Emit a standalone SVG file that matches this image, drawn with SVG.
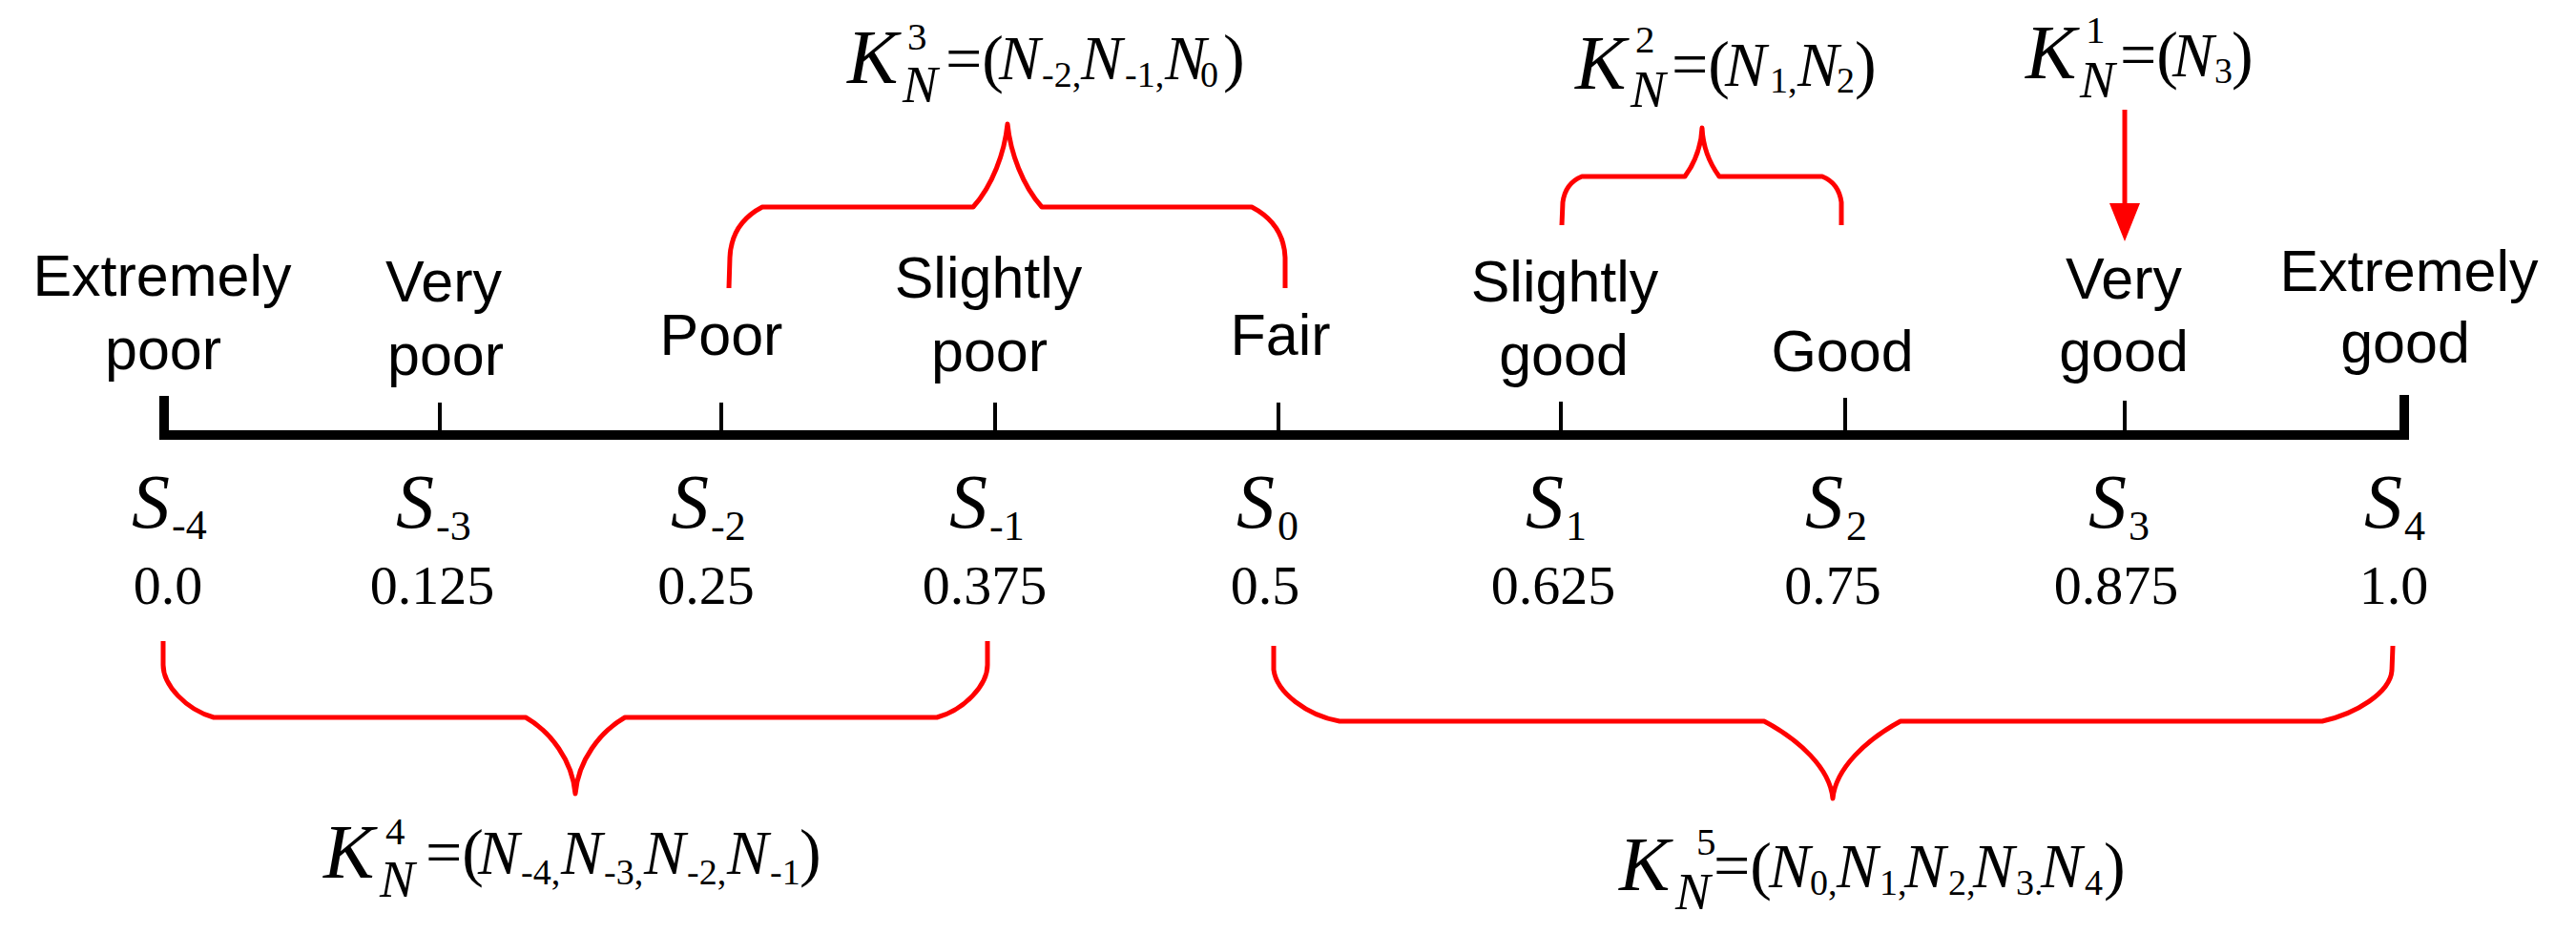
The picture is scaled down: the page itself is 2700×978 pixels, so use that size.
<svg xmlns="http://www.w3.org/2000/svg" width="2700" height="978" viewBox="0 0 2700 978">
<style>
.lbl{font-family:'Liberation Sans',Arial,sans-serif;font-size:61px;text-anchor:middle;fill:#000}
.s{font-family:'Liberation Serif','Times New Roman',serif;font-style:italic;font-size:80px;fill:#000}
.ssub{font-family:'Liberation Serif','Times New Roman',serif;font-style:normal;font-size:44px;fill:#000}
.num{font-family:'Liberation Serif','Times New Roman',serif;font-size:58px;text-anchor:middle;fill:#000}
.tick{stroke:#000;stroke-width:4}
.axis{stroke:#000;stroke-width:10;fill:none;stroke-linejoin:miter}
.brace{fill:none;stroke:#ff0000;stroke-width:5;stroke-linejoin:round}
.f{font-family:'Liberation Serif','Times New Roman',serif;fill:#000}
.fk{font-style:italic;font-size:80px}
.fsup{font-style:normal;font-size:41px}
.fsn{font-style:italic;font-size:55px}
.fm{font-style:normal;font-size:68px}
.fn{font-style:italic;font-size:65px}
.fsd{font-style:normal;font-size:38px}
</style>
<defs>
<marker id="arr" viewBox="0 0 40 32" markerWidth="40" markerHeight="32" refX="27" refY="16" orient="auto" markerUnits="userSpaceOnUse">
<path d="M0,0 L40,16 L0,32 z" fill="#ff0000"/>
</marker>
</defs>
<rect width="2700" height="978" fill="#fff"/>

<g id="axis">
<path class="axis" d="M172,415 V456 H2520 V414"/>
</g>

<g id="s-4">
<text class="lbl" x="170" y="310">Extremely</text>
<text class="lbl" x="171" y="387">poor</text>
<text class="s" x="138" y="553">S<tspan class="ssub" x="180" y="565">-4</tspan></text>
<text class="num" x="176" y="633">0.0</text>
</g>
<g id="s-3">
<text class="lbl" x="465" y="316">Very</text>
<text class="lbl" x="467" y="393">poor</text>
<line class="tick" x1="461" y1="422" x2="461" y2="452"/>
<text class="s" x="415" y="553">S<tspan class="ssub" x="457" y="566">-3</tspan></text>
<text class="num" x="453" y="633">0.125</text>
</g>
<g id="s-2">
<text class="lbl" x="756" y="372">Poor</text>
<line class="tick" x1="756" y1="422" x2="756" y2="452"/>
<text class="s" x="703" y="553">S<tspan class="ssub" x="745" y="566">-2</tspan></text>
<text class="num" x="740" y="633">0.25</text>
</g>
<g id="s-1">
<text class="lbl" x="1036" y="312">Slightly</text>
<text class="lbl" x="1037" y="389">poor</text>
<line class="tick" x1="1043" y1="422" x2="1043" y2="452"/>
<text class="s" x="995" y="553">S<tspan class="ssub" x="1037" y="566">-1</tspan></text>
<text class="num" x="1032" y="633">0.375</text>
</g>
<g id="s0">
<text class="lbl" x="1342" y="372">Fair</text>
<line class="tick" x1="1340" y1="422" x2="1340" y2="452"/>
<text class="s" x="1296" y="553">S<tspan class="ssub" x="1339" y="566">0</tspan></text>
<text class="num" x="1326" y="633">0.5</text>
</g>
<g id="s1">
<text class="lbl" x="1640" y="316">Slightly</text>
<text class="lbl" x="1639" y="393">good</text>
<line class="tick" x1="1636" y1="421" x2="1636" y2="452"/>
<text class="s" x="1599" y="553">S<tspan class="ssub" x="1641" y="566">1</tspan></text>
<text class="num" x="1628" y="633">0.625</text>
</g>
<g id="s2">
<text class="lbl" x="1931" y="389">Good</text>
<line class="tick" x1="1934" y1="417" x2="1934" y2="452"/>
<text class="s" x="1892" y="553">S<tspan class="ssub" x="1935" y="566">2</tspan></text>
<text class="num" x="1921" y="633">0.75</text>
</g>
<g id="s3">
<text class="lbl" x="2226" y="313">Very</text>
<text class="lbl" x="2226" y="389">good</text>
<line class="tick" x1="2227" y1="420" x2="2227" y2="452"/>
<text class="s" x="2189" y="553">S<tspan class="ssub" x="2231" y="566">3</tspan></text>
<text class="num" x="2218" y="633">0.875</text>
</g>
<g id="s4">
<text class="lbl" x="2525" y="305">Extremely</text>
<text class="lbl" x="2521" y="380">good</text>
<text class="s" x="2478" y="553">S<tspan class="ssub" x="2520" y="566">4</tspan></text>
<text class="num" x="2509" y="633">1.0</text>
</g>

<g id="k3">
<text class="f"><tspan class="fk" x="888" y="87">K</tspan><tspan class="fsup" x="951" y="52">3</tspan><tspan class="fsn" x="946" y="107">N</tspan><tspan class="fm" x="991" y="84">=(</tspan><tspan class="fn" x="1047" y="83">N</tspan><tspan class="fsd" x="1092" y="91">-2,</tspan><tspan class="fn" x="1133" y="83">N</tspan><tspan class="fsd" x="1179" y="91">-1,</tspan><tspan class="fn" x="1221" y="83">N</tspan><tspan class="fsd" x="1258" y="91">0</tspan><tspan class="fm" x="1282" y="83">)</tspan></text>
</g>
<g id="k2">
<text class="f"><tspan class="fk" x="1651" y="93">K</tspan><tspan class="fsup" x="1714" y="55">2</tspan><tspan class="fsn" x="1709" y="112">N</tspan><tspan class="fm" x="1752" y="90">=(</tspan><tspan class="fn" x="1808" y="90">N</tspan><tspan class="fsd" x="1855" y="97">1,</tspan><tspan class="fn" x="1884" y="90">N</tspan><tspan class="fsd" x="1925" y="97">2</tspan><tspan class="fm" x="1944" y="90">)</tspan></text>
</g>
<g id="k1">
<text class="f"><tspan class="fk" x="2123" y="82">K</tspan><tspan class="fsup" x="2186" y="45">1</tspan><tspan class="fsn" x="2180" y="102">N</tspan><tspan class="fm" x="2222" y="80">=(</tspan><tspan class="fn" x="2277" y="80">N</tspan><tspan class="fsd" x="2321" y="87">3</tspan><tspan class="fm" x="2339" y="80">)</tspan></text>
</g>
<g id="k4">
<text class="f"><tspan class="fk" x="339" y="920">K</tspan><tspan class="fsup" x="404" y="885">4</tspan><tspan class="fsn" x="398" y="940">N</tspan><tspan class="fm" x="446" y="916">=(</tspan><tspan class="fn" x="501" y="916">N</tspan><tspan class="fsd" x="546" y="927">-4,</tspan><tspan class="fn" x="588" y="916">N</tspan><tspan class="fsd" x="633" y="927">-3,</tspan><tspan class="fn" x="675" y="916">N</tspan><tspan class="fsd" x="720" y="927">-2,</tspan><tspan class="fn" x="762" y="916">N</tspan><tspan class="fsd" x="807" y="927">-1</tspan><tspan class="fm" x="838" y="916">)</tspan></text>
</g>
<g id="k5">
<text class="f"><tspan class="fk" x="1697" y="933">K</tspan><tspan class="fsup" x="1778" y="896">5</tspan><tspan class="fsn" x="1756" y="953">N</tspan><tspan class="fm" x="1796" y="930">=(</tspan><tspan class="fn" x="1854" y="930">N</tspan><tspan class="fsd" x="1897" y="938">0,</tspan><tspan class="fn" x="1925" y="930">N</tspan><tspan class="fsd" x="1970" y="938">1,</tspan><tspan class="fn" x="1996" y="930">N</tspan><tspan class="fsd" x="2042" y="938">2,</tspan><tspan class="fn" x="2068" y="930">N</tspan><tspan class="fsd" x="2113" y="938">3.</tspan><tspan class="fn" x="2139" y="930">N</tspan><tspan class="fsd" x="2185" y="938">4</tspan><tspan class="fm" x="2205" y="930">)</tspan></text>
</g>

<g id="connectors">
<path class="brace" d="M764,302 L765,270 C766,245 778,228 799,217 L1020,217 C1040,195 1053,160 1056,130 C1059,160 1072,195 1092,217 L1312,217 C1333,228 1346,245 1347,270 L1347,302"/>
<path class="brace" d="M1637,236 L1638,212 C1640,198 1648,189 1658,185 L1766,185 C1777,170 1783,155 1784,134 C1785,155 1791,170 1802,185 L1910,185 C1920,189 1928,198 1930,212 L1930,236"/>
<line x1="2227" y1="115" x2="2227" y2="240" stroke="#ff0000" stroke-width="5" marker-end="url(#arr)"/>
<path class="brace" d="M171,672 L171,697 C171,718 195,744 224,752 L551,752 C577,767 600,797 603,832 C606,797 629,767 655,752 L982,752 C1011,744 1035,718 1035,697 L1035,672"/>
<path class="brace" d="M1335,677 L1335,702 C1338,726 1370,750 1404,756 L1849,756 C1885,775 1918,805 1921,837 C1924,805 1957,775 1992,756 L2434,756 C2470,748 2505,726 2507,703 L2508,677"/>
</g>
</svg>
